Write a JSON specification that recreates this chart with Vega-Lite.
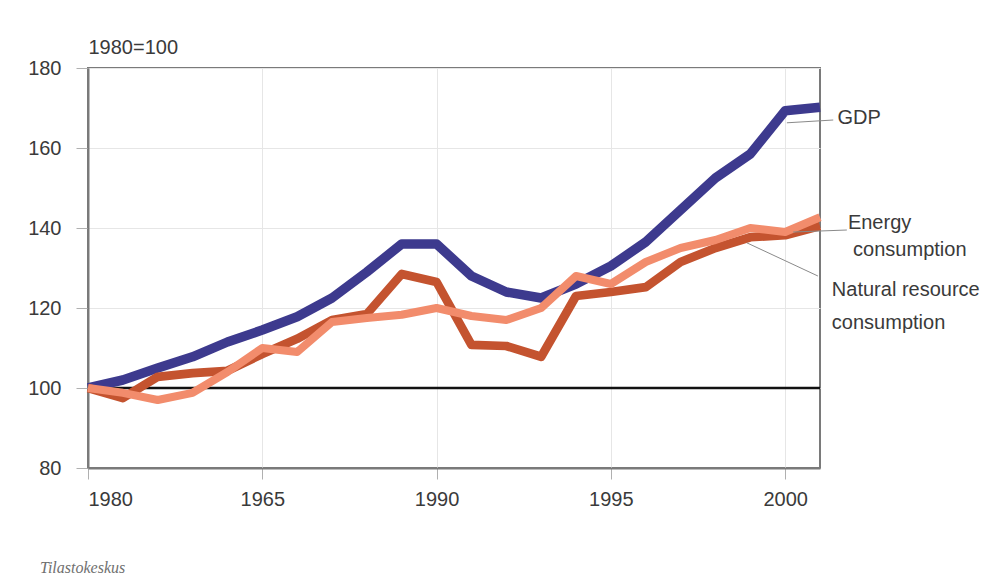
{
  "$schema": "https://vega.github.io/schema/vega-lite/v6.json",
  "width": 732,
  "height": 400,
  "autosize": "none",
  "padding": {"left": 88, "top": 68, "right": 185, "bottom": 114},
  "background": "white",
  "config": {
    "font": "Liberation Sans",
    "view": {"stroke": "#7a7a7a", "strokeWidth": 2},
    "axis": {
      "labelFont": "Liberation Sans",
      "labelFontSize": 20,
      "labelColor": "#3a3a3a",
      "domainColor": "#7a7a7a",
      "domainWidth": 2,
      "tickColor": "#b0b0b0",
      "gridColor": "#e6e6e6",
      "gridWidth": 1
    }
  },
  "datasets": {
    "series": [
      {"year": 1980, "series": "GDP", "value": 100},
      {"year": 1981, "series": "GDP", "value": 102},
      {"year": 1982, "series": "GDP", "value": 105},
      {"year": 1983, "series": "GDP", "value": 107.8},
      {"year": 1984, "series": "GDP", "value": 111.5},
      {"year": 1985, "series": "GDP", "value": 114.5},
      {"year": 1986, "series": "GDP", "value": 117.8},
      {"year": 1987, "series": "GDP", "value": 122.5},
      {"year": 1988, "series": "GDP", "value": 129},
      {"year": 1989, "series": "GDP", "value": 136},
      {"year": 1990, "series": "GDP", "value": 136},
      {"year": 1991, "series": "GDP", "value": 128},
      {"year": 1992, "series": "GDP", "value": 124},
      {"year": 1993, "series": "GDP", "value": 122.5},
      {"year": 1994, "series": "GDP", "value": 126},
      {"year": 1995, "series": "GDP", "value": 130.5},
      {"year": 1996, "series": "GDP", "value": 136.5},
      {"year": 1997, "series": "GDP", "value": 144.5},
      {"year": 1998, "series": "GDP", "value": 152.5},
      {"year": 1999, "series": "GDP", "value": 158.5},
      {"year": 2000, "series": "GDP", "value": 169.3},
      {"year": 2001, "series": "GDP", "value": 170.2},
      {"year": 1980, "series": "Natural resource consumption", "value": 100},
      {"year": 1981, "series": "Natural resource consumption", "value": 97.5},
      {"year": 1982, "series": "Natural resource consumption", "value": 102.8},
      {"year": 1983, "series": "Natural resource consumption", "value": 103.7},
      {"year": 1984, "series": "Natural resource consumption", "value": 104.3},
      {"year": 1985, "series": "Natural resource consumption", "value": 108.5},
      {"year": 1986, "series": "Natural resource consumption", "value": 112.3},
      {"year": 1987, "series": "Natural resource consumption", "value": 117},
      {"year": 1988, "series": "Natural resource consumption", "value": 118.5},
      {"year": 1989, "series": "Natural resource consumption", "value": 128.5},
      {"year": 1990, "series": "Natural resource consumption", "value": 126.5},
      {"year": 1991, "series": "Natural resource consumption", "value": 110.8},
      {"year": 1992, "series": "Natural resource consumption", "value": 110.5},
      {"year": 1993, "series": "Natural resource consumption", "value": 107.8},
      {"year": 1994, "series": "Natural resource consumption", "value": 123},
      {"year": 1995, "series": "Natural resource consumption", "value": 124},
      {"year": 1996, "series": "Natural resource consumption", "value": 125.2},
      {"year": 1997, "series": "Natural resource consumption", "value": 131.5},
      {"year": 1998, "series": "Natural resource consumption", "value": 135},
      {"year": 1999, "series": "Natural resource consumption", "value": 137.7},
      {"year": 2000, "series": "Natural resource consumption", "value": 138.2},
      {"year": 2001, "series": "Natural resource consumption", "value": 140.5},
      {"year": 1980, "series": "Energy consumption", "value": 100},
      {"year": 1981, "series": "Energy consumption", "value": 98.8},
      {"year": 1982, "series": "Energy consumption", "value": 97},
      {"year": 1983, "series": "Energy consumption", "value": 98.8},
      {"year": 1984, "series": "Energy consumption", "value": 104},
      {"year": 1985, "series": "Energy consumption", "value": 110},
      {"year": 1986, "series": "Energy consumption", "value": 109},
      {"year": 1987, "series": "Energy consumption", "value": 116.5},
      {"year": 1988, "series": "Energy consumption", "value": 117.5},
      {"year": 1989, "series": "Energy consumption", "value": 118.3},
      {"year": 1990, "series": "Energy consumption", "value": 120},
      {"year": 1991, "series": "Energy consumption", "value": 118},
      {"year": 1992, "series": "Energy consumption", "value": 117},
      {"year": 1993, "series": "Energy consumption", "value": 120},
      {"year": 1994, "series": "Energy consumption", "value": 128},
      {"year": 1995, "series": "Energy consumption", "value": 126},
      {"year": 1996, "series": "Energy consumption", "value": 131.5},
      {"year": 1997, "series": "Energy consumption", "value": 135},
      {"year": 1998, "series": "Energy consumption", "value": 137},
      {"year": 1999, "series": "Energy consumption", "value": 140},
      {"year": 2000, "series": "Energy consumption", "value": 139},
      {"year": 2001, "series": "Energy consumption", "value": 142.7}
    ],
    "base": [
      {"year": 1980, "value": 100},
      {"year": 2001, "value": 100}
    ],
    "leaders": [
      {"series": "GDP", "year": 2000.05, "value": 166.3, "year2": 2001.38, "value2": 167},
      {"series": "Energy consumption", "year": 2000.23, "value": 139, "year2": 2001.77, "value2": 139.5},
      {"series": "Natural resource consumption", "year": 1998.9, "value": 136.3, "year2": 2000.94, "value2": 128}
    ],
    "labels": [
      {"text": "GDP", "year": 2001.5, "value": 167.5},
      {"text": "Energy", "year": 2001.8, "value": 141.3},
      {"text": "consumption", "year": 2001.95, "value": 134.6},
      {"text": "Natural resource", "year": 2001.34, "value": 124.6},
      {"text": "consumption", "year": 2001.34, "value": 116.3}
    ],
    "logo": [
      {"text": "Tilastokeskus", "year": 1978.62, "value": 55}
    ]
  },
  "layer": [
    {
      "data": {"name": "base"},
      "mark": {"type": "line", "color": "#111111", "strokeWidth": 2.5},
      "encoding": {
        "x": {
          "field": "year", "type": "quantitative",
          "scale": {"domain": [1980, 2001], "nice": false, "zero": false},
          "axis": {
            "title": null,
            "values": [1980, 1985, 1990, 1995, 2000],
            "labelExpr": "datum.value == 1985 ? '1965' : format(datum.value, 'd')",
            "tickSize": 11,
            "labelPadding": 10,
            "grid": true
          }
        },
        "y": {
          "field": "value", "type": "quantitative",
          "scale": {"domain": [80, 180], "nice": false, "zero": false},
          "axis": {
            "title": "1980=100",
            "titleAngle": 0,
            "titleAlign": "left",
            "titleBaseline": "middle",
            "titleX": 0,
            "titleY": -21,
            "titleFont": "Liberation Sans",
            "titleFontSize": 20,
            "titleFontWeight": "normal",
            "titleColor": "#3a3a3a",
            "values": [80, 100, 120, 140, 160, 180],
            "tickSize": 12,
            "labelPadding": 15,
            "grid": true
          }
        }
      }
    },
    {
      "data": {"name": "series"},
      "mark": {"type": "line", "strokeCap": "butt", "strokeJoin": "round"},
      "encoding": {
        "x": {"field": "year", "type": "quantitative"},
        "y": {"field": "value", "type": "quantitative"},
        "color": {
          "field": "series", "type": "nominal",
          "scale": {
            "domain": ["GDP", "Natural resource consumption", "Energy consumption"],
            "range": ["#3d3a8e", "#c4532f", "#f28c6c"]
          },
          "legend": null
        },
        "strokeWidth": {
          "field": "series", "type": "nominal",
          "scale": {
            "domain": ["GDP", "Natural resource consumption", "Energy consumption"],
            "range": [9.5, 8, 8]
          },
          "legend": null
        }
      }
    },
    {
      "data": {"name": "leaders"},
      "mark": {"type": "rule", "color": "#8a8a8a", "strokeWidth": 1},
      "encoding": {
        "x": {"field": "year", "type": "quantitative"},
        "y": {"field": "value", "type": "quantitative"},
        "x2": {"field": "year2"},
        "y2": {"field": "value2"}
      }
    },
    {
      "data": {"name": "labels"},
      "mark": {"type": "text", "align": "left", "baseline": "middle", "fontSize": 20, "color": "#3a3a3a", "font": "Liberation Sans"},
      "encoding": {
        "x": {"field": "year", "type": "quantitative"},
        "y": {"field": "value", "type": "quantitative"},
        "text": {"field": "text"}
      }
    },
    {
      "data": {"name": "logo"},
      "mark": {"type": "text", "align": "left", "baseline": "middle", "fontSize": 16, "fontStyle": "italic", "color": "#707070", "font": "Liberation Serif"},
      "encoding": {
        "x": {"field": "year", "type": "quantitative"},
        "y": {"field": "value", "type": "quantitative"},
        "text": {"field": "text"}
      }
    }
  ]
}
